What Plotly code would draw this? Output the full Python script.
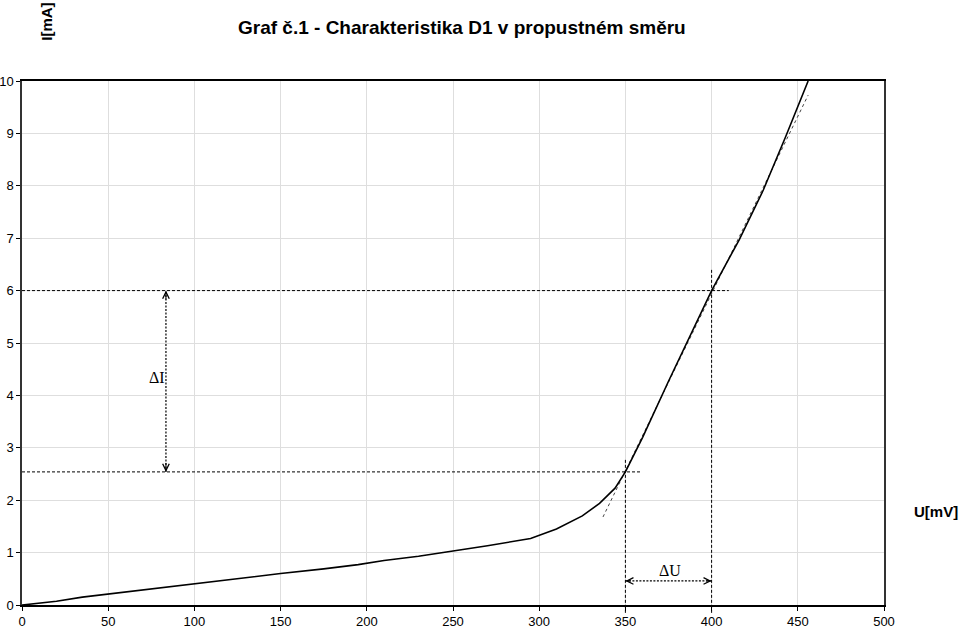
import plotly.graph_objects as go

# Measured characteristic (U in mV, I in mA)
U = [0, 20, 35, 50, 60, 75, 100, 125, 150, 175, 195, 210, 230, 250, 270, 295,
     310, 325, 335, 344, 350, 360, 375, 400, 416, 430, 443, 456]
I = [0, 0.07, 0.15, 0.21, 0.24, 0.31, 0.40, 0.50, 0.60, 0.69, 0.77, 0.85, 0.93,
     1.03, 1.13, 1.27, 1.45, 1.70, 1.94, 2.23, 2.54, 3.20, 4.27, 6.00, 6.97,
     7.92, 8.94, 10.0]

# Tangent line endpoints
tan_U = [337, 456]
tan_I = [1.68, 9.73]

# Construction values
U1, U2 = 350, 400
I1, I2 = 2.54, 6.0
arrowI_U = 83.5
arrowU_I = 0.46

x_ticks = [0, 50, 100, 150, 200, 250, 300, 350, 400, 450, 500]
y_ticks = [0, 1, 2, 3, 4, 5, 6, 7, 8, 9, 10]

fig = go.Figure()
fig.add_trace(go.Scatter(x=tan_U, y=tan_I, mode="lines",
                         line=dict(color="#444444", width=1, dash="dot"),
                         hoverinfo="skip", showlegend=False))
fig.add_trace(go.Scatter(x=U, y=I, mode="lines",
                         line=dict(color="black", width=1.6),
                         showlegend=False))

dash = dict(color="black", width=1, dash="3px,2px")
dot = dict(color="black", width=1.2, dash="2px,1.5px")
shapes = [
    dict(type="line", xref="x", yref="y", x0=0, x1=410, y0=I2, y1=I2, line=dash),
    dict(type="line", xref="x", yref="y", x0=0, x1=359, y0=I1, y1=I1, line=dash),
    dict(type="line", xref="x", yref="paper", x0=U1, x1=U1, y0=-0.015, y1=0.28, line=dash),
    dict(type="line", xref="x", yref="paper", x0=U2, x1=U2, y0=-0.015, y1=0.64, line=dash),
    dict(type="line", xref="x", yref="y", x0=arrowI_U, x1=arrowI_U, y0=I1, y1=I2, line=dot),
    dict(type="line", xref="x", yref="y", x0=U1, x1=U2, y0=arrowU_I, y1=arrowU_I, line=dot),
]

annotations = []
def head(x, y, ax, ay):
    annotations.append(dict(x=x, y=y, ax=ax, ay=ay, xref="x", yref="y",
                            axref="x", ayref="y", text="", showarrow=True,
                            arrowhead=5, arrowsize=1.3, arrowwidth=1,
                            arrowcolor="black"))

head(arrowI_U, I2, arrowI_U, I2 - 0.2)
head(arrowI_U, I1, arrowI_U, I1 + 0.2)
head(U1, arrowU_I, U1 + 4, arrowU_I)
head(U2, arrowU_I, U2 - 4, arrowU_I)

annotations += [
    dict(x=78.3, y=4.35, xref="x", yref="y", text="ΔI", showarrow=False,
         font=dict(family="Liberation Serif", size=16, color="black")),
    dict(x=376, y=0.65, xref="x", yref="y", text="ΔU", showarrow=False,
         font=dict(family="Liberation Serif", size=16, color="black")),
    dict(x=0.510, y=1.103, xref="paper", yref="paper", xanchor="center", yanchor="middle",
         text="<b>Graf č.1 - Charakteristika D1 v propustném směru</b>",
         showarrow=False, font=dict(family="Liberation Sans", size=19, color="black")),
    dict(x=0.029, y=1.113, xref="paper", yref="paper", xanchor="center", yanchor="middle",
         text="<b>I[mA]</b>", textangle=-90, showarrow=False,
         font=dict(family="Liberation Sans", size=15, color="black")),
    dict(x=1.060, y=0.179, xref="paper", yref="paper", xanchor="center", yanchor="middle",
         text="<b>U[mV]</b>", showarrow=False,
         font=dict(family="Liberation Sans", size=15, color="black")),
]

fig.update_layout(
    width=960, height=629,
    margin=dict(l=22, r=76, t=81, b=24, autoexpand=False),
    paper_bgcolor="white", plot_bgcolor="white",
    shapes=shapes, annotations=annotations,
    font=dict(family="Liberation Sans", size=13, color="black"),
    xaxis=dict(range=[0, 500], tickvals=x_ticks, ticktext=[str(v) for v in x_ticks],
               showgrid=True, gridcolor="#dedede", gridwidth=1,
               showline=True, linecolor="black", linewidth=1.5, mirror=True,
               ticks="outside", ticklen=4, tickcolor="black", zeroline=False,
               automargin=False, tickfont=dict(size=13)),
    yaxis=dict(range=[0, 10], tickvals=y_ticks, ticktext=[str(v) for v in y_ticks],
               showgrid=True, gridcolor="#dedede", gridwidth=1,
               showline=True, linecolor="#333333", linewidth=1.5, mirror=True,
               ticks="outside", ticklen=4, tickcolor="black", zeroline=False,
               automargin=False, tickfont=dict(size=13)),
)

fig.write_html("out.html")
